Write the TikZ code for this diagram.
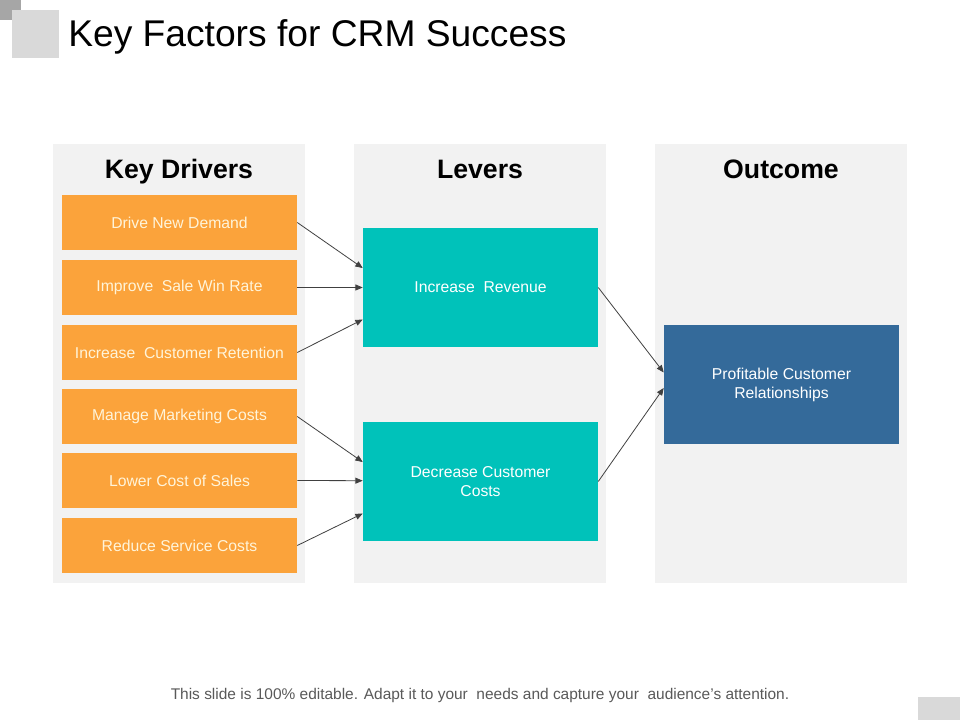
\documentclass[tikz,border=0pt]{standalone}
\usepackage{fontspec}
\setmainfont{Liberation Sans}
\usetikzlibrary{positioning,arrows.meta}
\definecolor{panelgray}{HTML}{F2F2F2}
\definecolor{driverorange}{HTML}{FBA33B}
\definecolor{drivertext}{HTML}{FFF4D9}
\definecolor{leverteal}{HTML}{00C2BA}
\definecolor{outcomeblue}{HTML}{346A9A}
\definecolor{linkgray}{HTML}{404040}

\begin{document}
\begin{tikzpicture}[x=0.75pt, y=-0.75pt,
    panel/.style={fill=panelgray},
    head/.style={anchor=base, font=\fontsize{20}{24}\selectfont\bfseries},
    box/.style={minimum width=176.25pt, minimum height=41.25pt, inner sep=2pt, align=center, font=\fontsize{11.8}{14.3}\selectfont},
    driver/.style={box, fill=driverorange, text=drivertext},
    lever/.style={box, fill=leverteal, text=white, minimum height=89.25pt},
    outcome/.style={box, fill=outcomeblue, text=white, minimum height=89.25pt},
    link/.style={draw=linkgray, line width=0.6pt, -{Triangle[length=5.5pt, width=4.5pt]}}]
  \useasboundingbox (0,0) rectangle (960,720);
  % corner marks and title
  \fill [gray!70] (0,0) rectangle (21,20);
  \fill [gray!30] (12,10) rectangle (59,58);
  \fill [gray!30] (918,697) rectangle (960,720);
  \node [anchor=base west, inner sep=0pt, font=\fontsize{27.9}{32}\selectfont] (title) at (68,47) {Key Factors for CRM Success};
  % columns
  \fill [panel] (53,144) rectangle (305,583);
  \fill [panel] (354,144) rectangle (606,583);
  \fill [panel] (655,144) rectangle (907,583);
  \node [head] (hdrivers) at (179,179) {Key Drivers};
  \node [head] (hlevers) at (480,179) {Levers};
  \node [head] (houtcome) at (781,179) {Outcome};
  % drivers
  \node [driver] (d1) at (179.5,222.5) {Drive New Demand};
  \node [driver] (d2) at (179.5,287.5) {Improve\ \ Sale Win Rate};
  \node [driver] (d3) at (179.5,352.5) {Increase\ \ Customer Retention};
  \node [driver] (d4) at (179.5,416.5) {Manage Marketing Costs};
  \node [driver] (d5) at (179.5,480.5) {Lower Cost of Sales};
  \node [driver] (d6) at (179.5,545.5) {Reduce Service Costs};
  % levers and outcome
  \node [lever] (rev) at (480.5,287.5) {Increase\ \ Revenue};
  \node [lever] (cost) at (480.5,481.5) {Decrease Customer\\Costs};
  \node [outcome] (profit) at (781.5,384.5) {Profitable Customer\\Relationships};
  % links
  \draw [link] (d1.east) -- ([yshift=14.6pt]rev.west);
  \draw [link] (d2.east) -- (rev.west);
  \draw [link] (d3.east) -- ([yshift=-24pt]rev.west);
  \draw [link] (d4.east) -- ([yshift=14.6pt]cost.west);
  \draw [link] (d5.east) -- ([yshift=0.6pt]cost.west);
  \draw [link] (d6.east) -- ([yshift=-24pt]cost.west);
  \draw [link] (rev.east) -- ([yshift=9pt]profit.west);
  \draw [link] (cost.east) -- ([yshift=-2.6pt]profit.west);
  % footer
  \node [anchor=base, text=black!65, font=\fontsize{11.6}{14}\selectfont] (note) at (480,699) {This slide is 100\% editable. Adapt it to your\ \ needs and capture your\ \ audience's attention.};
\end{tikzpicture}
\end{document}
